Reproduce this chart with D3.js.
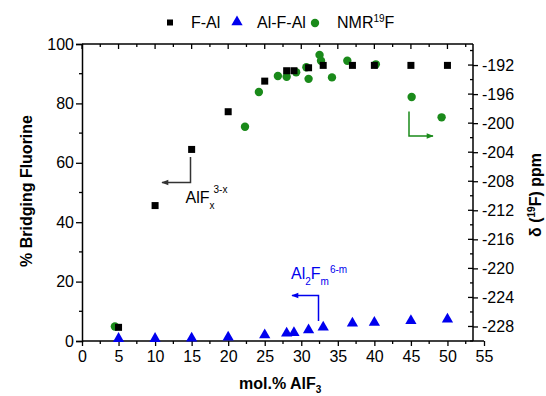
<!DOCTYPE html>
<html><head><meta charset="utf-8">
<script src="https://cdn.jsdelivr.net/npm/d3@7"></script>
<style>
body{margin:0;background:#fff;}
svg{display:block;font-family:"Liberation Sans",Arial,sans-serif;}
</style></head>
<body><svg id="c" width="546" height="396"></svg>
<script>
const fAlX = [5,10,15,20,25,28,29,31,33,37,40,45,50];
const fAlY = [4.6,45.6,64.5,77.2,87.5,91,91,92,92.8,92.8,92.8,92.8,92.8];
const alfalX = [5,10,15,20,25,28,29,31,33,37,40,45,50];
const alfalY = [0.8,0.8,0.9,1.3,2.0,2.6,2.8,3.7,4.6,6.0,6.2,6.8,7.3];
const nmrX = [4.5,22.3,24.2,26.8,28.0,29.3,30.7,31.0,32.5,32.7,34.2,36.3,40.2,45.1,49.2];
const nmrY = [-228.0,-200.5,-195.7,-193.5,-193.6,-193.0,-192.3,-193.9,-190.6,-191.4,-193.7,-191.4,-191.9,-196.4,-199.2];
const xTicks = [0,5,10,15,20,25,30,35,40,45,50,55];
const yTicks = [0,20,40,60,80,100];
const y2Ticks = [-192,-196,-200,-204,-208,-212,-216,-220,-224,-228];

const svg = d3.select("#c");
const L=82, R=473, T=44, B=341;
const x = d3.scaleLinear().domain([0,55]).range([L,484]);
const y = d3.scaleLinear().domain([0,100]).range([B,T]);
const y2 = d3.scaleLinear().domain([-230,-189.1]).range([B,T]);
const fs = 16;

// bottom axis
const gx = svg.append("g").attr("transform",`translate(0,${B})`)
  .call(d3.axisBottom(x).tickValues(xTicks).tickSize(5).tickPadding(5).tickFormat(d=>String(d)));
gx.append("g").selectAll("line").data(d3.range(2.5,55,5)).join("line")
  .attr("x1",d=>x(d)).attr("x2",d=>x(d)).attr("y1",0).attr("y2",3).attr("stroke","#000").attr("stroke-width",1.3);
// top axis (ticks inward)
const gt = svg.append("g").attr("transform",`translate(0,${T})`);
gt.append("line").attr("x1",L).attr("x2",R).attr("stroke","#000").attr("stroke-width",1.5);
gt.selectAll("line.t").data(d3.range(0,55,2.5).filter(d=>x(d)<=R)).join("line").attr("class","t")
  .attr("x1",d=>x(d)).attr("x2",d=>x(d)).attr("y1",0).attr("y2",d=>d%5===0?5:3).attr("stroke","#000").attr("stroke-width",1.3);
// left axis
const gy = svg.append("g").attr("transform",`translate(${L},0)`)
  .call(d3.axisLeft(y).tickValues(yTicks).tickSize(6).tickPadding(2).tickFormat(d=>String(d)));
gy.append("g").selectAll("line").data(d3.range(10,100,20)).join("line")
  .attr("y1",d=>y(d)).attr("y2",d=>y(d)).attr("x1",0).attr("x2",-3).attr("stroke","#000").attr("stroke-width",1.3);
// right axis
const gr = svg.append("g").attr("transform",`translate(${R},0)`)
  .call(d3.axisRight(y2).tickValues(y2Ticks).tickSize(5).tickPadding(4).tickFormat(d=>String(d)));
gr.append("g").selectAll("line").data(y2Ticks).join("line")
  .attr("y1",d=>y2(d)).attr("y2",d=>y2(d)).attr("x1",0).attr("x2",-5).attr("stroke","#000").attr("stroke-width",1.3);
gr.append("g").selectAll("line").data(d3.range(-230,-189,4)).join("line")
  .attr("y1",d=>y2(d)).attr("y2",d=>y2(d)).attr("x1",0).attr("x2",-3).attr("stroke","#000").attr("stroke-width",1.3);

[gx,gy,gr].forEach(g=>{
  g.select(".domain").attr("stroke-width",1.5);
  g.selectAll(".tick line").attr("stroke-width",1.3);
  g.selectAll("text").attr("font-size",fs).attr("fill","#000").attr("font-family","Liberation Sans, Arial, sans-serif");
});
gx.select(".domain").attr("d",`M${L},0H484`);
gr.select(".domain").attr("d",`M0,${T}V${B}`);

// data
const green="#1a8a1a", blue="#0000ee";
svg.append("g").selectAll("circle").data(nmrX).join("circle")
  .attr("cx",d=>x(d)).attr("cy",(d,i)=>y2(nmrY[i])).attr("r",4.2).attr("fill",green);
svg.append("g").selectAll("rect").data(fAlX).join("rect")
  .attr("x",d=>x(d)-3.5).attr("y",(d,i)=>y(fAlY[i])-3.5).attr("width",7).attr("height",7).attr("fill","#000");
const tri = d3.symbol().type(d3.symbolTriangle).size(55);
svg.append("g").selectAll("path").data(alfalX).join("path")
  .attr("d",tri).attr("transform",(d,i)=>`translate(${x(d)},${y(alfalY[i])})`).attr("fill",blue);

// legend
const lg = svg.append("g").attr("font-size",fs);
lg.append("rect").attr("x",167).attr("y",19.5).attr("width",6).attr("height",6).attr("fill","#000");
lg.append("text").attr("x",191).attr("y",28).text("F-Al");
lg.append("path").attr("d",tri).attr("transform","translate(237,22)").attr("fill",blue);
lg.append("text").attr("x",257).attr("y",28).text("Al-F-Al");
lg.append("circle").attr("cx",315).attr("cy",23).attr("r",4.2).attr("fill",green);
const nt = lg.append("text").attr("x",337).attr("y",28);
nt.append("tspan").text("NMR");
nt.append("tspan").attr("font-size",10).attr("dy",-6).text("19");
nt.append("tspan").attr("dy",6).text("F");

// axis titles
svg.append("text").attr("transform","translate(32,191) rotate(-90)").attr("text-anchor","middle")
  .attr("font-size",fs).attr("font-weight","bold").text("% Bridging Fluorine");
const t2 = svg.append("text").attr("transform","translate(541,195) rotate(-90)").attr("text-anchor","middle")
  .attr("font-size",fs).attr("font-weight","bold");
t2.append("tspan").text("δ (");
t2.append("tspan").attr("font-size",10).attr("dy",-6).text("19");
t2.append("tspan").attr("dy",6).text("F) ppm");
const t3 = svg.append("text").attr("x",239).attr("y",389).attr("font-size",fs).attr("font-weight","bold");
t3.append("tspan").text("mol.% AlF");
t3.append("tspan").attr("font-size",10).attr("dy",4).text("3");

// annotations
function arrow(pts,color,id){
  svg.append("defs").append("marker").attr("id",id).attr("viewBox","0 0 10 10").attr("refX",9).attr("refY",5)
    .attr("markerWidth",9).attr("markerHeight",7).attr("markerUnits","userSpaceOnUse").attr("orient","auto")
    .append("path").attr("d","M0,1L10,5L0,9Z").attr("fill",color);
  svg.append("path").attr("d",d3.line()(pts)).attr("fill","none").attr("stroke",color).attr("stroke-width",1.5)
    .attr("marker-end",`url(#${id})`);
}
arrow([[190.5,157],[190.5,182.5],[162,182.5]],"#333","a1");
arrow([[409,111.5],[409,136],[433,136]],green,"a2");
arrow([[318.5,321],[318.5,295.5],[292,295.5]],blue,"a3");

const a1 = svg.append("text").attr("x",185.5).attr("y",203).attr("font-size",fs).attr("fill","#000");
a1.append("tspan").text("AlF");
a1.append("tspan").attr("font-size",10).attr("dy",6).text("x");
a1.append("tspan").attr("font-size",10).attr("dx",-1).attr("dy",-16).text("3-x");
const a3 = svg.append("text").attr("x",291).attr("y",278.5).attr("font-size",fs).attr("fill",blue);
a3.append("tspan").text("Al");
a3.append("tspan").attr("font-size",10).attr("dy",6).text("2");
a3.append("tspan").attr("dy",-6).text("F");
a3.append("tspan").attr("font-size",10).attr("dy",6).text("m");
a3.append("tspan").attr("font-size",10).attr("dx",1).attr("dy",-12).text("6-m");
</script></body></html>
